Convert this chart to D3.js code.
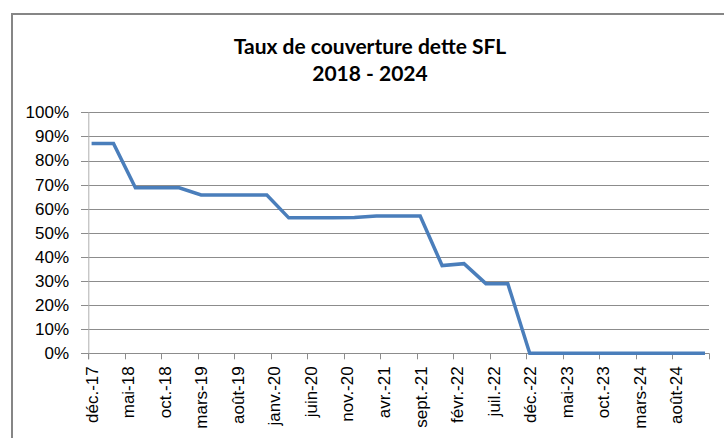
<!DOCTYPE html>
<html>
<head>
<meta charset="utf-8">
<script src="https://cdn.jsdelivr.net/npm/d3@7"></script>
<style>
  body { margin: 0; background: #fff; }
  svg { display: block; }
</style>
</head>
<body>
<div id="chart"></div>
<script>
// quarterly coverage rate (%)
const dates = [
  '2017-12', '2018-03', '2018-06', '2018-09', '2018-12',
  '2019-03', '2019-06', '2019-09', '2019-12',
  '2020-03', '2020-06', '2020-09', '2020-12',
  '2021-03', '2021-06', '2021-09', '2021-12',
  '2022-03', '2022-06', '2022-09', '2022-12',
  '2023-03', '2023-06', '2023-09', '2023-12',
  '2024-03', '2024-06', '2024-09', '2024-12',
];
const values = [
  87.1, 87.1, 68.7, 68.7, 68.7,
  65.7, 65.7, 65.7, 65.7,
  56.2, 56.2, 56.2, 56.3,
  57.0, 57.0, 57.0, 36.4,
  37.2, 28.9, 28.9, 0,
  0, 0, 0, 0,
  0, 0, 0, 0,
];
const tickLabels = [
  'déc.-17', 'mai-18', 'oct.-18', 'mars-19', 'août-19', 'janv.-20', 'juin-20',
  'nov.-20', 'avr.-21', 'sept.-21', 'févr.-22', 'juil.-22', 'déc.-22',
  'mai-23', 'oct.-23', 'mars-24', 'août-24',
];
const yTicks = [0, 10, 20, 30, 40, 50, 60, 70, 80, 90, 100];
const titleLines = ['Taux de couverture dette SFL', '2018 - 2024'];

const W = 724;
const H = 438;
const start = new Date(2017, 11, 1);
const nMonths = 85;
const monthIdx = (s) => {
  const [y, m] = s.split('-').map(Number);
  return d3.timeMonth.count(start, new Date(y, m - 1, 1));
};

const svg = d3.select('#chart').append('svg')
  .attr('width', W)
  .attr('height', H);

// outer chart frame (runs off the right and bottom edges)
svg.append('rect')
  .attr('x', 12).attr('y', 14)
  .attr('width', W + 20).attr('height', H + 20)
  .attr('fill', '#fff')
  .attr('stroke', '#868686')
  .attr('stroke-width', 2);

const x = d3.scaleLinear().domain([0, nMonths]).range([88.3, 709]);
const y = d3.scaleLinear().domain([0, 100]).range([353.3, 112.3]);

// title
svg.append('g').selectAll('text')
  .data(titleLines)
  .enter().append('text')
  .attr('x', 370)
  .attr('y', (d, i) => 54 + i * 27)
  .attr('text-anchor', 'middle')
  .style('font-family', 'Lato, "Open Sans", sans-serif')
  .style('font-weight', 'bold')
  .style('font-size', '21px')
  .text((d) => d);

// horizontal gridlines + y labels
const yAxis = svg.append('g').attr('class', 'y-axis');
yAxis.selectAll('line')
  .data(yTicks)
  .enter().append('line')
  .attr('x1', 81).attr('x2', 709)
  .attr('y1', (d) => Math.round(y(d)) + 0.5)
  .attr('y2', (d) => Math.round(y(d)) + 0.5)
  .attr('stroke', '#8c8c8c')
  .attr('stroke-width', 1);
yAxis.selectAll('text')
  .data(yTicks)
  .enter().append('text')
  .attr('x', 69)
  .attr('y', (d) => y(d))
  .attr('dy', '0.35em')
  .attr('text-anchor', 'end')
  .style('font-family', '"Liberation Sans", Arial, sans-serif')
  .style('font-size', '17px')
  .text((d) => `${d}%`);

// vertical axis line
svg.append('line')
  .attr('x1', x(0) + 0.5).attr('x2', x(0) + 0.5)
  .attr('y1', y(100)).attr('y2', y(0) + 6)
  .attr('stroke', '#b0b0b0')
  .attr('stroke-width', 1);

// x tick marks every 5 months, plus the axis end
const tickPos = d3.range(0, nMonths + 1, 5);
svg.append('g').selectAll('line')
  .data(tickPos)
  .enter().append('line')
  .attr('x1', (d) => Math.round(x(d)) + 0.5)
  .attr('x2', (d) => Math.round(x(d)) + 0.5)
  .attr('y1', y(0)).attr('y2', y(0) + 6)
  .attr('stroke', '#8c8c8c');

svg.append('g').selectAll('text')
  .data(tickLabels)
  .enter().append('text')
  .attr('transform', (d, i) => `translate(${x(i * 5 + 0.5)},${y(0) + 13}) rotate(-90)`)
  .attr('dy', '0.35em')
  .attr('text-anchor', 'end')
  .style('font-family', '"Liberation Sans", Arial, sans-serif')
  .style('font-size', '17px')
  .text((d) => d);

// series line
const line = d3.line()
  .x((d) => x(monthIdx(d.date) + 0.45))
  .y((d) => y(d.value));

svg.append('path')
  .datum(dates.map((d, i) => ({ date: d, value: values[i] })))
  .attr('fill', 'none')
  .attr('stroke', '#4a7ebb')
  .attr('stroke-width', 3.5)
  .attr('stroke-linejoin', 'miter')
  .attr('d', line);
</script>
</body>
</html>
